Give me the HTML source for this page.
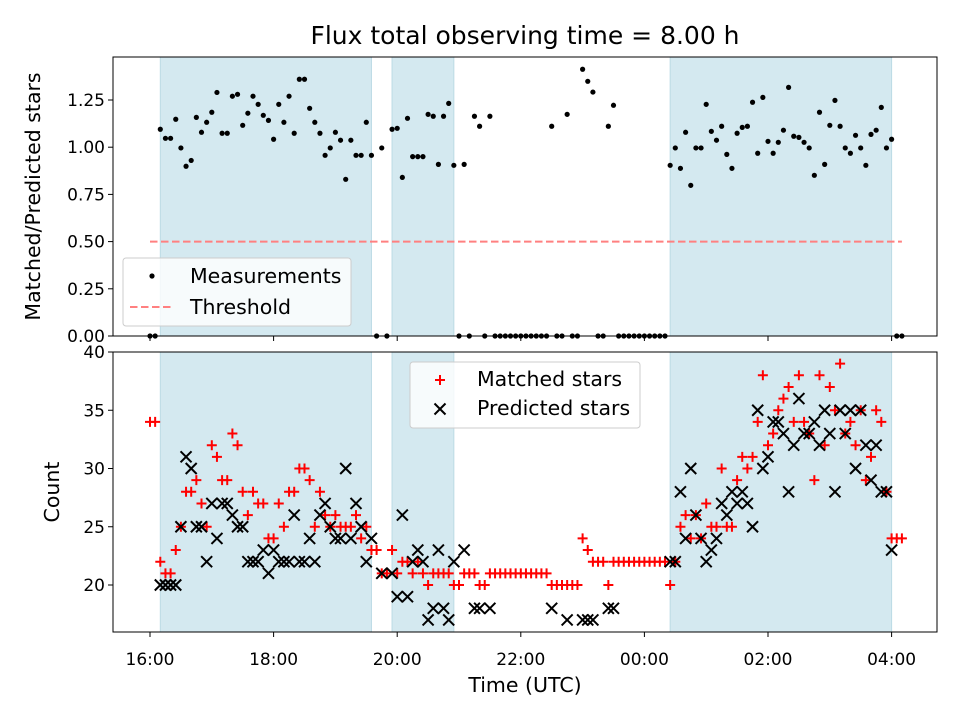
<!DOCTYPE html>
<html><head><meta charset="utf-8"><style>
html,body{margin:0;padding:0;background:#fff;}
svg{display:block;font-family:"DejaVu Sans","Liberation Sans",sans-serif;}
</style></head><body>
<svg id="fig" width="960" height="720" viewBox="0 0 960 720" xmlns="http://www.w3.org/2000/svg">
<rect width="960" height="720" fill="#fff"/>
<text x="525" y="44" font-size="25" text-anchor="middle" fill="#000">Flux total observing time = 8.00 h</text>
<g id="topPanel"></g>
<g id="botPanel"></g>
</svg>
<script>
// minutes since 16:00, 5-minute cadence
const cadenceMin = 5;
const ratioValues = [0,0,1.095,1.047,1.047,1.148,0.996,0.899,0.93,1.158,
1.079,1.132,1.185,1.29,1.074,1.074,1.27,1.28,1.116,1.18,
1.27,1.227,1.169,1.142,1.042,1.227,1.132,1.27,1.074,1.36,
1.36,1.206,1.132,1.074,0.957,0.996,1.079,1.037,0.83,1.037,
0.957,0.957,1.132,0.957,0,0.996,0,1.095,1.10,0.84,
1.153,0.95,0.95,0.95,1.174,1.164,0.909,1.164,1.232,0.904,
0,0.909,0,1.164,1.111,0,1.164,0,0,0,
0,0,0,0,0,0,0,0,1.111,0,
0,1.174,0,0,1.413,1.349,1.292,0,0,1.111,
1.222,0,0,0,0,0,0,0,0,0,
0,0.904,0.996,0.888,1.079,0.798,0.996,0.996,1.227,1.084,
1.037,1.111,0.962,0.888,1.074,1.105,1.111,1.238,0.968,1.264,
1.031,0.968,1.026,1.09,1.317,1.058,1.052,1.026,0.996,0.851,
1.185,0.909,1.116,1.248,1.111,0.996,0.968,1.063,0.996,0.904,
1.068,1.09,1.211,0.996,1.042,0,0];
const matchedValues = [34,34,22,21,21,23,25,28,28,29,
27,25,32,31,29,29,33,32,28,26,
28,27,27,24,24,27,25,28,28,30,
30,29,25,28,26,25,26,25,25,25,
26,24,25,23,23,21,21,23,21,22,
22,21,22,21,20,21,21,21,21,20,
20,21,21,21,20,20,21,21,21,21,
21,21,21,21,21,21,21,21,20,20,
20,20,20,20,24,23,22,22,22,20,
22,22,22,22,22,22,22,22,22,22,
22,20,22,25,26,24,26,24,27,25,
25,30,25,25,29,31,30,31,34,38,
32,33,35,36,37,34,38,34,33,29,
38,32,37,35,39,33,34,32,35,29,
31,35,34,28,24,24,24];
const predictedValues = [null,null,20,20,20,20,25,31,30,25,
25,22,27,24,27,27,26,25,25,22,
22,22,23,21,23,22,22,22,26,22,
22,24,22,26,27,25,24,24,30,24,
27,25,22,24,null,21,null,21,19,26,
19,22,23,22,17,18,23,18,17,22,
null,23,null,18,18,null,18,null,null,null,
null,null,null,null,null,null,null,null,18,null,
null,17,null,null,17,17,17,null,null,18,
18,null,null,null,null,null,null,null,null,null,
null,22,22,28,24,30,26,24,22,23,
24,27,26,28,27,28,27,25,35,30,
31,34,34,33,28,32,36,33,33,34,
32,35,33,28,35,33,35,30,35,32,
29,32,28,28,23,null,null];
const spanStarts = [10,235,505];
const spanEnds = [215,295,720];
const thresholdValue = 0.5;
const thresholdRange = [0,730];
const xTickMinutes = [0,120,240,360,480,600,720];
const xTickLabels = ["16:00","18:00","20:00","22:00","00:00","02:00","04:00"];
const topTicks = [0,0.25,0.5,0.75,1.0,1.25];
const topTickLabels = ["0.00","0.25","0.50","0.75","1.00","1.25"];
const botTicks = [20,25,30,35,40];
const botTickLabels = ["20","25","30","35","40"];

const NS="http://www.w3.org/2000/svg";
function mk(tag,attrs,parent){const e=document.createElementNS(NS,tag);for(const k in attrs)e.setAttribute(k,attrs[k]);parent.appendChild(e);return e;}
const L=113,R=937;
const xs=m=>150+m*(61.8/60);
const yTop=v=>336-v*188.8;
const yBot=v=>352+(40-v)*11.65;
const topG=document.getElementById('topPanel'), botG=document.getElementById('botPanel');
const TF=17, LF=20.5;

function panel(g,T,B,yf,ticks,labels,ylabel,lname,showX){
  for(let i=0;i<spanStarts.length;i++){
    const r=mk('rect',{x:xs(spanStarts[i]),y:T,width:xs(spanEnds[i])-xs(spanStarts[i]),height:B-T,fill:'#d4e9f0',stroke:'#bcdbe5','stroke-width':1},g);
    
    
  }
  ticks.forEach((v,i)=>{
    const yy=yf(v);
    mk('line',{x1:L-5,x2:L,y1:yy,y2:yy,stroke:'#000','stroke-width':1},g);
    const t=mk('text',{x:L-8,y:yy+6,'font-size':TF,'text-anchor':'end'},g);
    t.textContent=labels[i];
    
    
  });
  xTickMinutes.forEach((m,i)=>{
    mk('line',{x1:xs(m),x2:xs(m),y1:B,y2:B+5,stroke:'#000','stroke-width':1},g);
    if(showX){const t=mk('text',{x:xs(m),y:B+33,'font-size':TF,'text-anchor':'middle'},g);t.textContent=xTickLabels[i];
      
      }
  });
  const yl=mk('text',{x:0,y:0,'font-size':LF,'text-anchor':'middle',transform:`translate(${lname},${(T+B)/2}) rotate(-90)`},g);
  yl.textContent=ylabel;
  
  
}
panel(topG,57,336,yTop,topTicks,topTickLabels,"Matched/Predicted stars",40,false);
panel(botG,352,632,yBot,botTicks,botTickLabels,"Count",59,true);

const th=mk('line',{x1:xs(thresholdRange[0]),x2:xs(thresholdRange[1]),y1:yTop(thresholdValue),y2:yTop(thresholdValue),stroke:'#ff8080','stroke-width':2,'stroke-dasharray':'7.5,3.5'},topG);


ratioValues.forEach((v,i)=>{
  const c=mk('circle',{cx:xs(i*cadenceMin),cy:yTop(v),r:2.6,fill:'#000'},topG);
  
  
});
matchedValues.forEach((v,i)=>{
  if(v===null)return;
  const cx=xs(i*cadenceMin),cy=yBot(v);
  const p=mk('path',{d:`M${cx-5},${cy}H${cx+5}M${cx},${cy-5}V${cy+5}`,stroke:'#ff0000','stroke-width':2},botG);
  
  
});
predictedValues.forEach((v,i)=>{
  if(v===null)return;
  const cx=xs(i*cadenceMin),cy=yBot(v);
  const p=mk('path',{d:`M${cx-5.5},${cy-5.5}L${cx+5.5},${cy+5.5}M${cx-5.5},${cy+5.5}L${cx+5.5},${cy-5.5}`,stroke:'#000','stroke-width':2},botG);
  
  
});
[[57,336],[352,632]].forEach(([T,B])=>{
  const f=mk('rect',{x:L,y:T,width:R-L,height:B-T,fill:'none',stroke:'#000','stroke-width':1},document.getElementById('fig'));
  
  
});
function legend(g,bx,by,bw,bh){
  const r=mk('rect',{x:bx,y:by,width:bw,height:bh,rx:3,fill:'rgba(255,255,255,0.8)',stroke:'#cccccc','stroke-width':1},g);
  
  
}
legend(topG,123,258,228,68);
mk('circle',{cx:152,cy:276,r:2.6,fill:'#000'},topG);
mk('line',{x1:130,x2:172,y1:307,y2:307,stroke:'#ff8080','stroke-width':2,'stroke-dasharray':'7.5,3.5'},topG);
let tx=mk('text',{x:190,y:283,'font-size':LF},topG);tx.textContent="Measurements";


tx=mk('text',{x:190,y:314,'font-size':LF},topG);tx.textContent="Threshold";



legend(botG,410,362,230,66);
mk('path',{d:'M435,380H445M440,375V385',stroke:'#ff0000','stroke-width':2},botG);
mk('path',{d:'M434.5,403.5L445.5,414.5M434.5,414.5L445.5,403.5',stroke:'#000','stroke-width':2},botG);
tx=mk('text',{x:477,y:386,'font-size':LF},botG);tx.textContent="Matched stars";


tx=mk('text',{x:477,y:415,'font-size':LF},botG);tx.textContent="Predicted stars";



tx=mk('text',{x:525,y:692,'font-size':LF,'text-anchor':'middle'},botG);tx.textContent="Time (UTC)";


</script>
</body></html>
